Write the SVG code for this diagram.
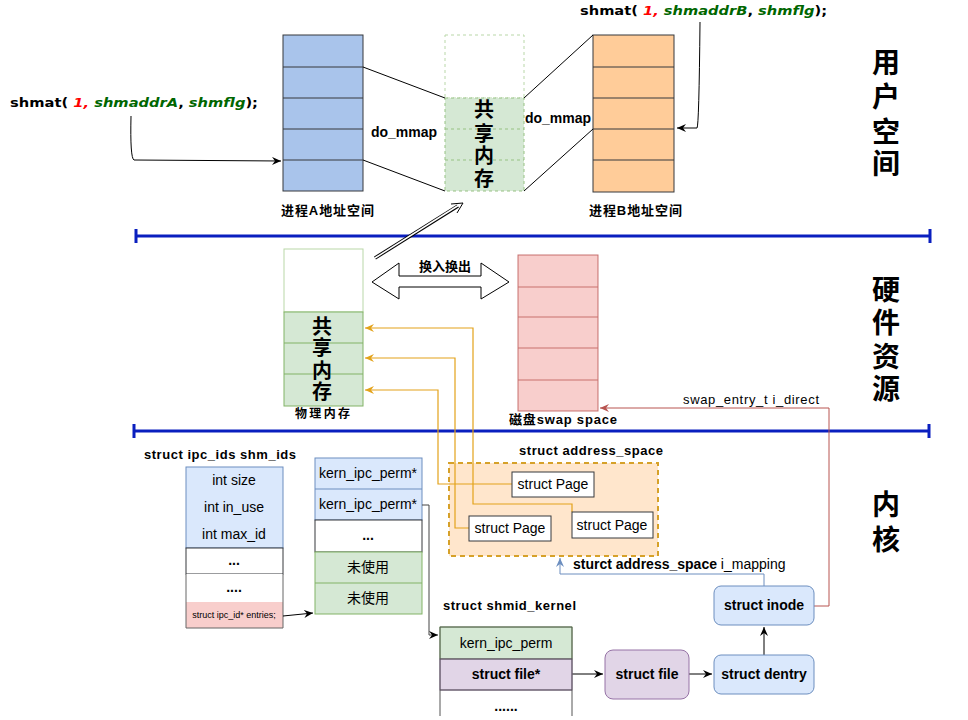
<svg xmlns="http://www.w3.org/2000/svg" width="968" height="720" viewBox="0 0 968 720">
<defs>
<style>
text{font-family:"Liberation Sans","Noto Sans CJK SC",sans-serif;fill:#000}
.b{font-weight:bold}
.c{text-anchor:middle}
.big{font-size:28px;font-weight:bold;text-anchor:middle}
.mid{font-size:20px;font-weight:bold;text-anchor:middle}
.lbl{font-size:13px;font-weight:bold}
.t14{font-size:14px}
.code{font-family:"DejaVu Sans","Noto Sans CJK SC",sans-serif;font-size:13px;font-weight:bold}
.red{fill:#ff0000;font-style:italic}
.grn{fill:#006600;font-style:italic}
.ln{fill:none;stroke:#000;stroke-width:1}
.orange{fill:none;stroke:#e3a21a;stroke-width:1.2}
.sep{stroke:#0a1fbf;stroke-width:3;fill:none}
</style>
<marker id="ah" markerWidth="10" markerHeight="8" refX="9" refY="4" orient="auto" markerUnits="userSpaceOnUse">
<path d="M0,0 L9,4 L0,8 L3,4 Z" fill="#000"/>
</marker>
<marker id="ahO" markerWidth="10" markerHeight="8" refX="9" refY="4" orient="auto" markerUnits="userSpaceOnUse">
<path d="M0,0 L9,4 L0,8 L3,4 Z" fill="#e3a21a"/>
</marker>
<marker id="ahR" markerWidth="10" markerHeight="8" refX="9" refY="4" orient="auto" markerUnits="userSpaceOnUse">
<path d="M0,0 L9,4 L0,8 L3,4 Z" fill="#b85450"/>
</marker>
<marker id="ahB" markerWidth="10" markerHeight="8" refX="9" refY="4" orient="auto" markerUnits="userSpaceOnUse">
<path d="M0,0 L9,4 L0,8 L3,4 Z" fill="#6c8ebf"/>
</marker>
</defs>
<rect width="968" height="720" fill="#fff"/>

<!-- region separators -->
<g id="separators">
<path class="sep" d="M136,236 H930 M136,229 V243 M930,229 V243"/>
<path class="sep" d="M134,431 H929 M134,424 V438 M929,424 V438"/>
</g>

<!-- region labels -->
<g id="region-labels">
<text class="big" x="886" y="73">用</text>
<text class="big" x="886" y="107">户</text>
<text class="big" x="886" y="142">空</text>
<text class="big" x="886" y="174">间</text>
<text class="big" x="886" y="300">硬</text>
<text class="big" x="886" y="333">件</text>
<text class="big" x="886" y="367">资</text>
<text class="big" x="886" y="399">源</text>
<text class="big" x="886" y="515">内</text>
<text class="big" x="886" y="550">核</text>
</g>

<!-- process A -->
<g id="procA">
<rect x="283" y="35" width="80" height="156" fill="#a9c4eb" stroke="#36393d"/>
<path d="M283,67 H363 M283,98 H363 M283,129 H363 M283,160 H363" stroke="#36393d" fill="none"/>
<text class="lbl" x="281" y="215" textLength="93">进程A地址空间</text>
</g>

<!-- shared memory (virtual) -->
<g id="shm-virtual">
<rect x="445" y="35" width="79" height="63" fill="#fff" stroke="#b9d7a8" stroke-dasharray="3 3"/>
<rect x="445" y="98" width="79" height="93" fill="#d5e8d4" stroke="#97c283" stroke-dasharray="3 3"/>
<path d="M445,129 H524 M445,160 H524" stroke="#97c283" stroke-dasharray="3 3" fill="none"/>
<text class="mid" x="484" y="117">共</text>
<text class="mid" x="484" y="141">享</text>
<text class="mid" x="484" y="163">内</text>
<text class="mid" x="484" y="186">存</text>
</g>

<!-- process B -->
<g id="procB">
<rect x="593" y="35" width="81" height="157" fill="#ffcc99" stroke="#36393d"/>
<path d="M593,67 H674 M593,98 H674 M593,129 H674 M593,160 H674" stroke="#36393d" fill="none"/>
<text class="lbl" x="589" y="215" textLength="93">进程B地址空间</text>
</g>

<!-- shmat calls -->
<g id="shmatA">
<text class="code" x="10" y="107" textLength="248" lengthAdjust="spacingAndGlyphs">shmat( <tspan class="red">1,</tspan> <tspan class="grn">shmaddrA</tspan>, <tspan class="grn">shmflg</tspan>);</text>
</g>
<g id="shmatB">
<text class="code" x="580" y="15" textLength="247" lengthAdjust="spacingAndGlyphs">shmat( <tspan class="red">1,</tspan> <tspan class="grn">shmaddrB</tspan>, <tspan class="grn">shmflg</tspan>);</text>
</g>

<!-- physical memory -->
<g id="phys-mem">
<rect x="284" y="249" width="79" height="63" fill="#fff" stroke="#b9d7a8"/>
<rect x="284" y="312" width="79" height="94" fill="#d5e8d4" stroke="#82b366"/>
<path d="M284,343 H363 M284,374 H363" stroke="#82b366" fill="none"/>
<text class="mid" x="322" y="334">共</text>
<text class="mid" x="322" y="355">享</text>
<text class="mid" x="322" y="378">内</text>
<text class="mid" x="322" y="399">存</text>
<text class="lbl" x="295" y="418" style="font-size:12px" textLength="55">物理内存</text>
</g>

<!-- swap space -->
<g id="swap">
<rect x="518" y="255" width="80" height="156" fill="#f8cecc" stroke="#b85450" stroke-opacity="0.8"/>
<path d="M518,287 H598 M518,317 H598 M518,348 H598 M518,380 H598" stroke="#c8706c" fill="none"/>
<text class="lbl" x="509" y="424" textLength="108">磁盘swap space</text>
</g>

<!-- swap in/out double arrow -->
<g id="swap-arrow">
<polygon points="372,282 399,263 399,276 481,276 481,263 509,282 481,299 481,287 399,287 399,299" fill="#fff" stroke="#000"/>
<rect x="410" y="257" width="66" height="17" fill="#fff"/>
<text class="lbl c" x="445" y="271">换入换出</text>
</g>

<!-- ipc_ids table -->
<g id="ipc-ids">
<text class="lbl" x="144" y="459" textLength="152">struct ipc_ids shm_ids</text>
<rect x="186" y="467" width="97" height="81" fill="#dae8fc" stroke="#6c8ebf"/>
<rect x="186" y="548" width="97" height="26" fill="#fff" stroke="#36393d"/>
<rect x="186" y="574" width="97" height="28" fill="#fff" stroke="none"/>
<rect x="186" y="602" width="97" height="26" fill="#f8cecc" stroke="none"/>
<path d="M186,574 V628 H283 V574" fill="none" stroke="#666"/>
<text class="t14 c" x="234" y="485">int size</text>
<text class="t14 c" x="234" y="512">int in_use</text>
<text class="t14 c" x="234" y="539">int max_id</text>
<text class="t14 c b" x="234" y="565">...</text>
<text class="t14 c b" x="234" y="592">....</text>
<text class="c" x="234" y="618" style="font-size:9px">struct ipc_id* entries;</text>
</g>

<!-- kern_ipc_perm array -->
<g id="perm-array">
<rect x="315" y="458" width="107" height="62" fill="#dae8fc" stroke="#6c8ebf"/>
<path d="M315,489 H422" stroke="#6c8ebf"/>
<rect x="315" y="520" width="107" height="32" fill="#fff" stroke="#36393d"/>
<rect x="315" y="552" width="107" height="62" fill="#d5e8d4" stroke="#82b366"/>
<path d="M315,583 H422" stroke="#82b366"/>
<text class="t14 c" x="368" y="478">kern_ipc_perm*</text>
<text class="t14 c" x="368" y="509">kern_ipc_perm*</text>
<text class="t14 c b" x="368" y="540">...</text>
<text class="t14 c" x="368" y="572">未使用</text>
<text class="t14 c" x="368" y="603">未使用</text>
</g>

<!-- address_space -->
<g id="address-space">
<text class="lbl" x="519" y="455" textLength="144">struct address_space</text>
<rect x="449" y="463" width="209" height="93" fill="#ffe6cc" stroke="#d6a129" stroke-width="2" stroke-dasharray="5 4"/>
</g>

<!-- connectors -->
<g id="connectors">
<path class="ln" d="M363,67 L445,98"/>
<path class="ln" d="M363,160 L445,191" stroke-width="1.6"/>
<path class="ln" d="M524,98 L593,35" stroke-width="1.6"/>
<path class="ln" d="M524,191 L593,129"/>
<path class="ln" d="M131,116 Q130,158 134,160 L281,161" marker-end="url(#ah)"/>
<path class="ln" d="M700,22 Q699,126 697,128 L677,128" marker-end="url(#ah)"/>
<path d="M375,258 L458,206" stroke="#000" stroke-width="3.5" fill="none"/>
<path d="M375,258 L459,205" stroke="#fff" stroke-width="1.5" fill="none"/>
<path d="M451,204 L463,203 L457,213" fill="none" stroke="#000" stroke-width="1"/>
<path class="orange" d="M512,484 H438 V390 H365" marker-end="url(#ahO)"/>
<path class="orange" d="M469,528 H455 V358 H365" marker-end="url(#ahO)"/>
<path class="orange" d="M572,512 V504 H473 V328 H365" marker-end="url(#ahO)"/>
<path class="ln" d="M283,616 L313,613" marker-end="url(#ah)"/>
<path d="M422,505 H429 V635 H438" fill="none" stroke="#444" marker-end="url(#ah)"/>
<path class="ln" d="M572,674 H603" marker-end="url(#ah)"/>
<path class="ln" d="M689,674 H712" marker-end="url(#ah)"/>
<path class="ln" d="M764,655 V627" marker-end="url(#ah)"/>
<path d="M764,586 V574 H560 V558" fill="none" stroke="#6c8ebf" marker-end="url(#ahB)"/>
<path d="M814,606 H829 V408 H600" fill="none" stroke="#b85450" marker-end="url(#ahR)"/>
</g>

<!-- connector labels -->
<g id="connector-labels">
<text class="lbl" x="371" y="137" style="font-size:14px" textLength="66">do_mmap</text>
<text class="lbl" x="525" y="123" style="font-size:14px" textLength="66">do_mmap</text>
<text x="683" y="404" style="font-size:13px" textLength="136">swap_entry_t  i_direct</text>
<text x="573" y="569" style="font-size:14px"><tspan class="b">sturct address_space</tspan> i_mapping</text>
</g>

<!-- struct Page nodes -->
<g id="page1">
<rect x="512" y="472" width="82" height="25" fill="#fff" stroke="#36393d"/>
<text class="t14 c" x="553" y="489">struct Page</text>
</g>
<g id="page2">
<rect x="469" y="516" width="82" height="25" fill="#fff" stroke="#36393d"/>
<text class="t14 c" x="510" y="533">struct Page</text>
</g>
<g id="page3">
<rect x="572" y="512" width="81" height="26" fill="#fff" stroke="#36393d"/>
<text class="t14 c" x="612" y="530">struct Page</text>
</g>

<!-- shmid_kernel -->
<g id="shmid-kernel">
<text class="lbl" x="443" y="610" textLength="133">struct shmid_kernel</text>
<rect x="440" y="627" width="132" height="32" fill="#d5e8d4" stroke="#82b366"/>
<rect x="440" y="659" width="132" height="31" fill="#e1d5e7" stroke="#9673a6"/>
<path d="M440,627 H572 M440,627 V716 M572,627 V716 M440,659 H572 M440,690 H572" fill="none" stroke="#555"/>
<text class="t14 c" x="506" y="648">kern_ipc_perm</text>
<text class="t14 c b" x="506" y="679">struct file*</text>
<text class="t14 c b" x="506" y="711">......</text>
</g>

<g id="struct-file">
<rect x="605" y="650" width="84" height="49" rx="8" fill="#e1d5e7" stroke="#9673a6"/>
<text class="t14 c b" x="647" y="679">struct file</text>
</g>
<g id="struct-dentry">
<rect x="714" y="655" width="100" height="39" rx="7" fill="#dae8fc" stroke="#6c8ebf"/>
<text class="t14 c b" x="764" y="679">struct dentry</text>
</g>
<g id="struct-inode">
<rect x="714" y="586" width="100" height="39" rx="7" fill="#dae8fc" stroke="#6c8ebf"/>
<text class="t14 c b" x="764" y="610">struct inode</text>
</g>
</svg>
